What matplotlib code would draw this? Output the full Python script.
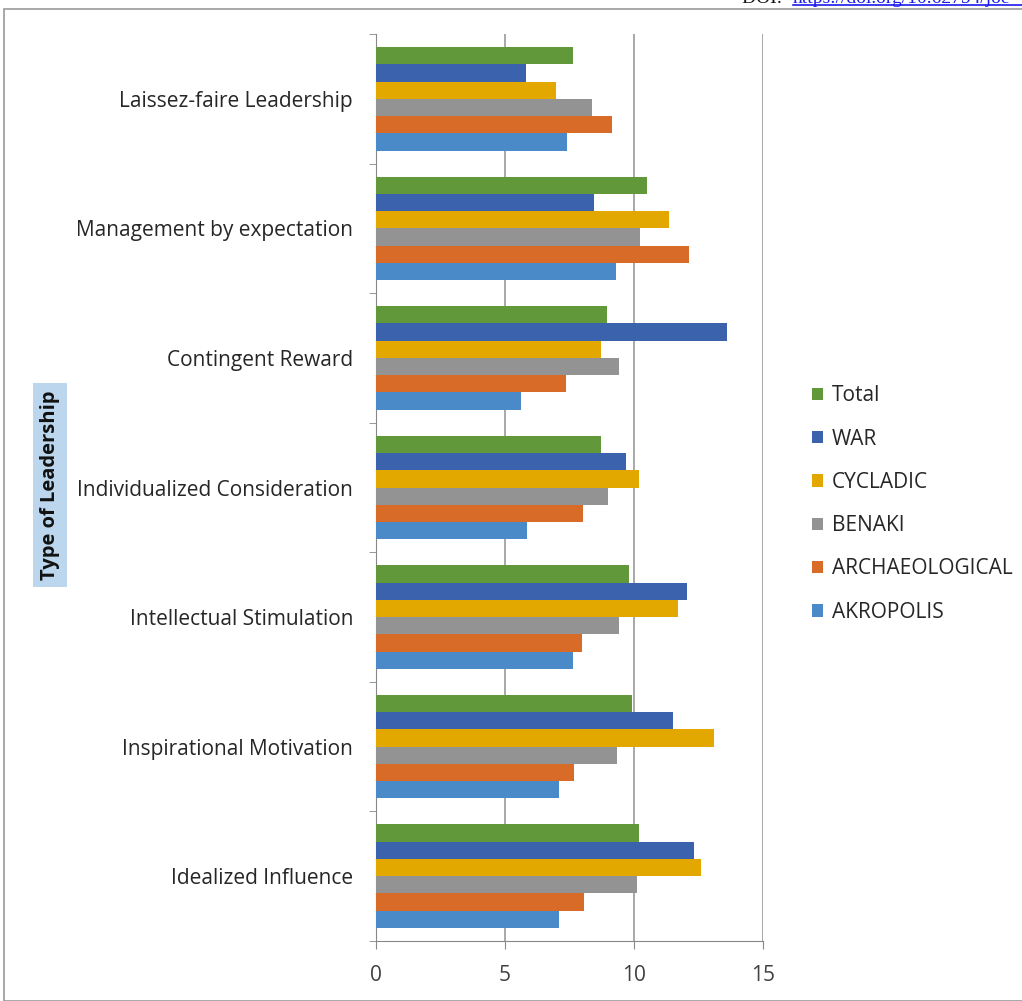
import matplotlib.pyplot as plt
import numpy as np
from matplotlib import patches, lines

plt.rcParams['font.family'] = ['Open Sans', 'DejaVu Sans']

# categories, bottom to top as drawn
categories = ['Idealized Influence', 'Inspirational Motivation', 'Intellectual Stimulation',
              'Individualized Consideration', 'Contingent Reward', 'Management by expectation',
              'Laissez-faire Leadership']

# series values, one per category (same order as categories)
akropolis = [7.11, 7.11, 7.64, 5.84, 5.63, 9.29, 7.40]
archaeological = [8.06, 7.69, 7.98, 8.04, 7.36, 12.14, 9.16]
benaki = [10.13, 9.34, 9.43, 8.98, 9.43, 10.23, 8.36]
cycladic = [12.60, 13.09, 11.71, 10.18, 8.71, 11.34, 6.98]
war = [12.33, 11.52, 12.07, 9.69, 13.62, 8.45, 5.80]
total = [10.18, 9.92, 9.82, 8.71, 8.94, 10.52, 7.65]

series_names = ['AKROPOLIS', 'ARCHAEOLOGICAL', 'BENAKI', 'CYCLADIC', 'WAR', 'Total']
series_values = [akropolis, archaeological, benaki, cycladic, war, total]
series_colors = ['#4a8ac8', '#d86b27', '#939393', '#e3a800', '#3a62ad', '#60983a']

x_ticks = [0, 5, 10, 15]

fig = plt.figure(figsize=(10.22, 10.01), dpi=100)
ax = fig.add_axes([376 / 1022, 1 - 941 / 1001, (763 - 376) / 1022, (941 - 34) / 1001])

n = len(series_names)
bar_h = 0.8 / n
y = np.arange(len(categories))
for i, (name, vals, col) in enumerate(zip(series_names, series_values, series_colors)):
    offs = -0.4 + bar_h * (i + 0.5)
    ax.barh(y + offs, vals, height=bar_h, color=col, label=name, zorder=3)

ax.set_xlim(0, 15)
ax.set_ylim(-0.5, len(categories) - 0.5)
ax.set_xticks(x_ticks)
ax.set_xticklabels([str(t) for t in x_ticks], fontsize=15, color='#404040')
ax.set_yticks(y)
ax.set_yticklabels(categories, fontsize=15, color='#262626')
ax.set_yticks(np.arange(len(categories) + 1) - 0.5, minor=True)
ax.tick_params(axis='y', which='major', length=0, pad=16.5)
ax.tick_params(axis='y', which='minor', length=5, color='#888888', direction='out')
ax.tick_params(axis='x', length=6, color='#888888', direction='out', pad=11)
ax.xaxis.grid(True, color='#9a9a9a', linewidth=1.2, zorder=0)
for side in ['top', 'right']:
    ax.spines[side].set_visible(False)
ax.spines['left'].set_color('#888888')
ax.spines['bottom'].set_color('#888888')

# legend, top to bottom Total ... AKROPOLIS
handles, labels = ax.get_legend_handles_labels()
leg = fig.legend(handles[::-1], labels[::-1], loc='center left', bbox_to_anchor=(793 / 1022, 1 - 504 / 1001),
                 frameon=False, fontsize=15, handlelength=0.55, handleheight=0.55, handletextpad=0.4,
                 labelspacing=1.07)
for t in leg.get_texts():
    t.set_color('#262626')

# y axis title box
fig.text(50 / 1022, 1 - 485 / 1001, 'Type of Leadership', rotation=90, ha='center', va='center',
         fontsize=14.5, fontweight='bold', color='#111111',
         bbox=dict(facecolor='#bcd6ee', edgecolor='none', pad=5))

# outer frame
fig.patches.append(patches.Rectangle((4 / 1022, 0), 1.0, 1 - 9 / 1001, transform=fig.transFigure,
                                     fill=False, edgecolor='#999999', linewidth=1.2))
fig.text(742 / 1022, 1 - 3 / 1001, 'DOI: ', ha='left', va='baseline', fontsize=14,
         family=['Liberation Serif'], color='#111111')
fig.text(793 / 1022, 1 - 3 / 1001, 'https://doi.org/10.62754/joe', ha='left', va='baseline', fontsize=14,
         family=['Liberation Serif'], color='#1a1aee')
fig.lines.append(lines.Line2D([793 / 1022, 1.0], [1 - 5 / 1001, 1 - 5 / 1001], transform=fig.transFigure,
                              color='#1a1aee', linewidth=1.2))

fig.savefig('out.png', dpi=100)
